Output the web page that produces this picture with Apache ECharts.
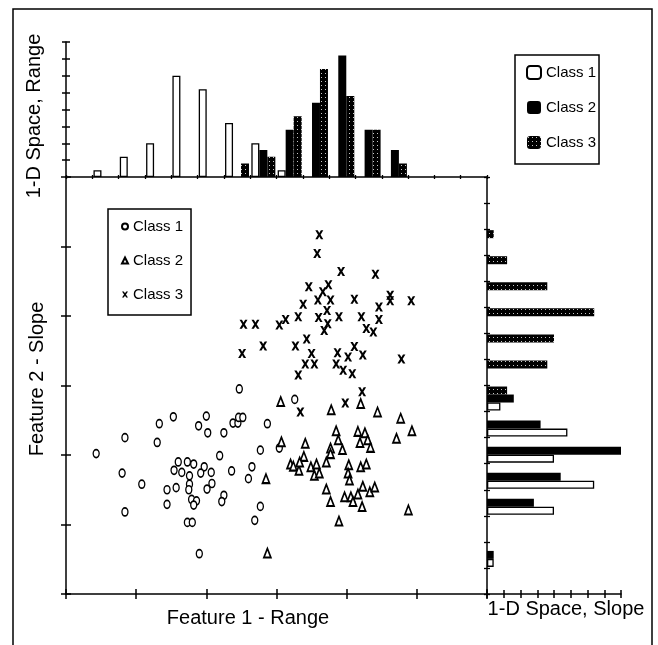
<!DOCTYPE html>
<html>
<head>
<meta charset="utf-8">
<script src="https://cdn.jsdelivr.net/npm/echarts@6/dist/echarts.min.js"></script>
<style>
  html, body { margin: 0; padding: 0; background: #fff; }
  #chart { width: 658px; height: 645px; }
</style>
</head>
<body>
<div id="chart"></div>
<script>
// 2-D feature space (Feature 1 - Range, Feature 2 - Slope)
var classOne = [[24.7,29.5],[15.3,25.5],[13.3,24.5],[20.0,25.6],[18.9,24.2],[20.2,23.2],[22.5,23.2],[23.8,24.6],[24.5,24.6],[24.6,25.4],
  [25.2,25.4],[28.7,24.5],[8.4,22.5],[13.0,21.8],[4.3,20.2],[21.9,19.9],[27.7,20.7],[16.0,19.0],[17.3,19.0],[18.2,18.7],
  [15.4,17.8],[16.5,17.5],[19.7,18.3],[19.2,17.4],[20.7,17.5],[17.6,17.0],[23.6,17.7],[26.5,18.3],[26.0,16.6],[8.0,17.4],
  [10.8,15.8],[17.6,15.8],[20.8,15.9],[15.7,15.3],[14.4,15.0],[17.5,15.0],[20.1,15.1],[17.9,13.6],[18.6,13.4],[18.2,12.8],
  [22.5,14.2],[22.2,13.3],[14.4,12.9],[8.4,11.8],[27.7,12.6],[26.9,10.6],[17.3,10.3],[18.0,10.3],[19.0,5.8],[32.6,28.0],[30.4,21.0]];
var classTwo = [[30.6,27.7],[37.8,26.5],[42.0,27.4],[44.4,26.2],[47.7,25.3],[49.3,23.5],[47.1,22.4],[38.5,23.5],[38.8,22.2],[39.4,20.8],
  [41.6,23.4],[42.6,23.2],[41.9,21.8],[43.0,22.2],[43.4,21.1],[30.7,21.9],[34.1,21.7],[33.9,19.8],[37.7,21.0],[37.7,20.2],
  [37.1,19.0],[32.0,18.7],[32.4,18.4],[33.2,17.8],[33.3,19.0],[34.9,18.3],[35.7,18.7],[35.4,17.1],[36.1,17.4],[40.3,18.6],
  [40.2,17.4],[40.4,16.4],[42.0,18.3],[42.8,18.7],[28.5,16.6],[37.1,15.1],[37.7,13.3],[39.7,14.0],[40.6,14.0],[40.9,13.3],
  [41.6,14.4],[42.3,15.5],[43.3,14.7],[44.0,15.4],[42.2,12.6],[48.8,12.1],[38.9,10.5],[28.7,5.9]];
var classThree = [[36.1,51.7],[35.8,49.0],[39.2,46.4],[44.1,46.0],[34.6,44.2],[37.4,44.5],[36.6,43.5],[35.9,42.3],[37.7,42.3],[33.8,41.7],
  [41.1,42.4],[46.2,43.0],[46.2,42.2],[49.2,42.2],[44.6,41.3],[37.2,40.8],[33.1,39.9],[36.0,39.8],[38.9,39.9],[42.1,39.9],
  [44.6,39.5],[25.3,38.8],[27.0,38.8],[30.4,38.7],[31.3,39.5],[37.3,38.9],[36.8,37.9],[42.8,38.2],[43.8,37.7],[25.1,34.6],
  [28.1,35.7],[32.7,35.7],[34.3,36.7],[35.0,34.6],[34.1,33.1],[35.4,33.1],[33.1,31.5],[38.7,34.7],[40.2,34.1],[41.1,35.6],
  [42.3,34.4],[38.5,33.1],[39.5,32.2],[40.8,31.7],[47.8,33.8],[33.4,26.2],[39.8,27.5],[42.2,29.1]];

// 1-D histograms, 16 bins, percent of class
var bins = ['1','2','3','4','5','6','7','8','9','10','11','12','13','14','15','16'];
var rangeClass1 = [0, 2, 6, 10, 30, 26, 16, 10, 2, 0, 0, 0, 0, 0, 0, 0];
var rangeClass2 = [0, 0, 0, 0, 0, 0, 0, 8, 14, 22, 36, 14, 8, 0, 0, 0];
var rangeClass3 = [0, 0, 0, 0, 0, 0, 4, 6, 18, 32, 24, 14, 4, 0, 0, 0];
// slope bins from bottom to top
var slopeClass1 = [0, 2, 0, 20, 32, 20, 24, 4, 0, 0, 0, 0, 0, 0, 0, 0];
var slopeClass2 = [0, 2, 0, 14, 22, 40, 16, 8, 0, 0, 0, 0, 0, 0, 0, 0];
var slopeClass3 = [0, 0, 0, 0, 0, 0, 0, 6, 18, 20, 32, 18, 6, 2, 0, 0];

var FONT = '"Liberation Sans", Arial, Helvetica, sans-serif';

// dotted fill for class 3
var pat = document.createElement('canvas');
pat.width = 4; pat.height = 4;
var pctx = pat.getContext('2d');
pctx.fillStyle = '#000'; pctx.fillRect(0, 0, 4, 4);
pctx.fillStyle = '#c8c8c8'; pctx.fillRect(1, 1, 1, 1);
var dotted = { image: pat, repeat: 'repeat' };

var styleC1 = { color: '#fff', borderColor: '#000', borderWidth: 1.3 };
var styleC2 = { color: '#000' };
var styleC3 = { color: dotted };

function nz(arr) {
  return arr.map(function (v) { return v === 0 ? '-' : v; });
}

var line = { show: true, lineStyle: { color: '#000', width: 1.5 } };
function valAxis(grid, pos, max, step, inside, len, showLine) {
  return {
    type: 'value', gridIndex: grid, position: pos, min: 0, max: max, interval: step,
    axisLine: showLine ? line : { show: false },
    axisTick: { show: true, inside: inside, length: len, lineStyle: { color: '#000', width: 1.5 } },
    axisLabel: { show: false }, splitLine: { show: false }
  };
}
function catAxis(grid, pos, inside, len, showLine) {
  return {
    type: 'category', gridIndex: grid, position: pos, data: bins, boundaryGap: true,
    axisLine: showLine ? line : { show: false },
    axisTick: { show: true, inside: inside, length: len, interval: 0, lineStyle: { color: '#000', width: 1.3 } },
    axisLabel: { show: false, interval: 0 }, splitLine: { show: false }
  };
}

var chart = echarts.init(document.getElementById('chart'));

var option = {
  animation: false,
  backgroundColor: '#fff',
  textStyle: { fontFamily: FONT },
  grid: [
    { left: 66, top: 177, width: 421, height: 417 },  // scatter
    { left: 66, top: 42, width: 421, height: 135 },   // range histogram
    { left: 487, top: 177, width: 134, height: 417 }  // slope histogram
  ],
  xAxis: [
    valAxis(0, 'bottom', 60, 10, false, 5, true),
    valAxis(0, 'bottom', 60, 10, true, 5, false),
    catAxis(1, 'bottom', false, 2, true),
    catAxis(1, 'bottom', true, 2, false),
    valAxis(2, 'bottom', 40, 5, false, 4, true),
    valAxis(2, 'bottom', 40, 5, true, 4, false)
  ],
  yAxis: [
    valAxis(0, 'left', 60, 10, false, 5, true),
    valAxis(0, 'left', 60, 10, true, 5, false),
    valAxis(1, 'left', 40, 5, false, 4, true),
    valAxis(1, 'left', 40, 5, true, 4, false),
    catAxis(2, 'left', false, 3, true),
    catAxis(2, 'left', true, 3, false)
  ],
  legend: [
    {
      data: ['Class 1', 'Class 2', 'Class 3'],
      orient: 'vertical', left: 108, top: 209,
      itemWidth: 6, itemHeight: 6, itemGap: 19,
      padding: [10, 8, 13, 13],
      borderColor: '#000', borderWidth: 1.5,
      selectedMode: false,
      textStyle: { fontFamily: FONT, fontSize: 15, color: '#000' }
    },
    {
      data: ['Range Class 1', 'Range Class 2', 'Range Class 3'],
      orient: 'vertical', left: 515, top: 55,
      itemWidth: 14, itemHeight: 13, itemGap: 20,
      padding: [10, 3, 14, 11],
      borderColor: '#000', borderWidth: 1.5,
      selectedMode: false,
      formatter: function (n) { return n.replace('Range ', ''); },
      textStyle: { fontFamily: FONT, fontSize: 15, color: '#000' }
    }
  ],
  series: [
    {
      name: 'Class 1', type: 'scatter', xAxisIndex: 0, yAxisIndex: 0,
      symbol: 'circle', symbolSize: [6, 8], data: classOne,
      itemStyle: { color: '#fff', borderColor: '#000', borderWidth: 1.5, opacity: 1 }
    },
    {
      name: 'Class 2', type: 'scatter', xAxisIndex: 0, yAxisIndex: 0,
      symbol: 'triangle', symbolSize: [7, 9], data: classTwo,
      itemStyle: { color: '#fff', borderColor: '#000', borderWidth: 1.8, opacity: 1 }
    },
    {
      name: 'Class 3', type: 'scatter', xAxisIndex: 0, yAxisIndex: 0,
      symbol: 'path://M0,0L3,0L5,3L7,0L10,0L6.6,5L10,10L7,10L5,7L3,10L0,10L3.4,5Z',
      symbolSize: [8, 9], data: classThree,
      itemStyle: { color: '#000', opacity: 1 }
    },
    // range histogram
    { name: 'Range Class 1', type: 'bar', xAxisIndex: 2, yAxisIndex: 2, barWidth: 8, barGap: '0%',
      data: nz(rangeClass1), itemStyle: styleC1 },
    { name: 'Range Class 2', type: 'bar', xAxisIndex: 2, yAxisIndex: 2, barWidth: 8, barGap: '0%',
      data: nz(rangeClass2), itemStyle: styleC2 },
    { name: 'Range Class 3', type: 'bar', xAxisIndex: 2, yAxisIndex: 2, barWidth: 8, barGap: '0%',
      data: nz(rangeClass3), itemStyle: styleC3 },
    // slope histogram (first series sits on top of each band)
    { name: 'Slope Class 3', type: 'bar', xAxisIndex: 4, yAxisIndex: 4, barWidth: 8, barGap: '0%',
      data: nz(slopeClass3), itemStyle: styleC3 },
    { name: 'Slope Class 2', type: 'bar', xAxisIndex: 4, yAxisIndex: 4, barWidth: 8, barGap: '0%',
      data: nz(slopeClass2), itemStyle: styleC2 },
    { name: 'Slope Class 1', type: 'bar', xAxisIndex: 4, yAxisIndex: 4, barWidth: 8, barGap: '0%',
      data: nz(slopeClass1), itemStyle: styleC1 }
  ],
  graphic: [
    { type: 'polyline', silent: true, shape: { points: [[13, 650], [13, 9], [652, 9], [652, 650]] },
      style: { stroke: '#000', lineWidth: 1.5, fill: null } },
    { type: 'text', x: 248, y: 618, silent: true,
      style: { text: 'Feature 1 - Range', fontSize: 20, fontFamily: FONT, fill: '#000',
        align: 'center', verticalAlign: 'middle', textAlign: 'center', textVerticalAlign: 'middle' } },
    { type: 'text', x: 566, y: 609, silent: true,
      style: { text: '1-D Space, Slope', fontSize: 20, fontFamily: FONT, fill: '#000',
        align: 'center', verticalAlign: 'middle', textAlign: 'center', textVerticalAlign: 'middle' } },
    { type: 'text', x: 37, y: 379, rotation: Math.PI / 2, silent: true,
      style: { text: 'Feature 2 - Slope', fontSize: 20, fontFamily: FONT, fill: '#000',
        align: 'center', verticalAlign: 'middle', textAlign: 'center', textVerticalAlign: 'middle' } },
    { type: 'text', x: 34, y: 116, rotation: Math.PI / 2, silent: true,
      style: { text: '1-D Space, Range', fontSize: 20, fontFamily: FONT, fill: '#000',
        align: 'center', verticalAlign: 'middle', textAlign: 'center', textVerticalAlign: 'middle' } }
  ]
};

chart.setOption(option);
</script>
</body>
</html>
